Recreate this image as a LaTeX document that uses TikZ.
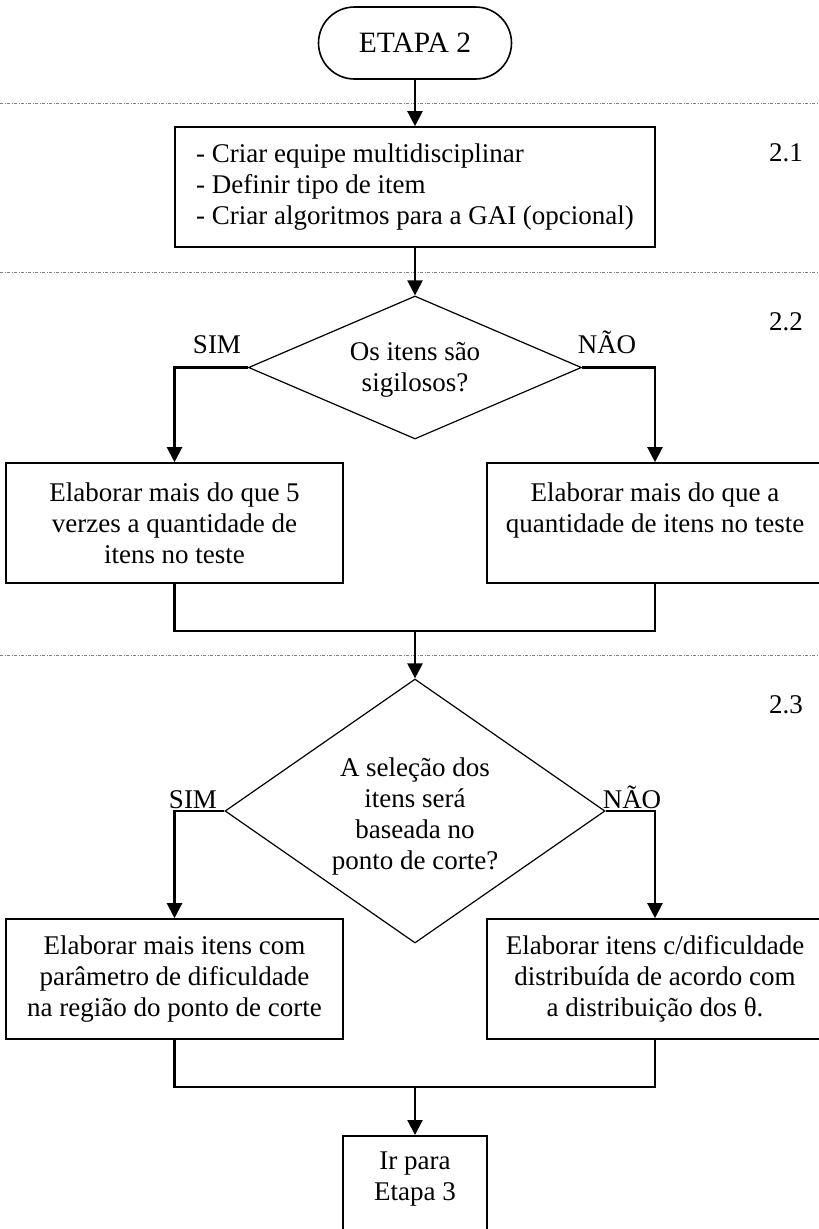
\documentclass[tikz,border=0pt]{standalone}
\usepackage{fontspec}
\setmainfont{Liberation Serif}
\usetikzlibrary{shapes.geometric,arrows.meta}

\begin{document}
\begin{tikzpicture}[x=1pt,y=-1pt,
  font=\fontsize{27}{31}\selectfont,
  every node/.style={align=center},
  terminal/.style={draw,line width=1.6pt,rectangle,rounded corners=36pt,
    minimum width=193pt,minimum height=72pt,inner sep=0pt,
    font=\fontsize{29.5}{33}\selectfont},
  box/.style={draw,line width=1.6pt,rectangle,inner sep=0pt},
  decision/.style={draw,diamond,line width=1.2pt,inner sep=0pt},
  flow/.style={line width=2.2pt,-{Triangle[length=15pt,width=15pt]}},
  link/.style={line width=2.2pt},
  sep/.style={gray,line width=0.7pt,dash pattern=on 3pt off 1.5pt on 1pt off 1.5pt}]

\clip (0,0) rectangle (819,1229);

% stage separators
\draw[sep] (0,103) -- (819,103);
\draw[sep] (0,272) -- (819,272);
\draw[sep] (0,655) -- (819,655);

% step numbers
\node (n21) at (786,153) {2.1};
\node (n22) at (786,322) {2.2};
\node (n23) at (786,705) {2.3};

% start
\node[terminal] (start) at (415,43) {ETAPA 2};

% 2.1
\node[box,minimum width=480pt,minimum height=120pt,align=left] (s21) at (415,187)
  {- Criar equipe multidisciplinar\\- Definir tipo de item\\- Criar algoritmos para a GAI (opcional)};

% 2.2
\node[decision,minimum width=333pt,minimum height=143pt] (q1) at (415,367.5) {};
\node (q1text) at (415,370) {Os itens são\\sigilosos?};
\node[anchor=base] (yes1) at (217,353) {SIM};
\node[anchor=base] (no1) at (607,353) {NÃO};

\node[box,minimum width=337pt,minimum height=120pt] (a1) at (174.5,523)
  {Elaborar mais do que 5\\verzes a quantidade de\\itens no teste};
\node[box,minimum width=336pt,minimum height=120pt] (b1) at (655,523)
  {Elaborar mais do que a\\quantidade de itens no teste\\\mbox{}};

% 2.3
\node[decision,minimum width=380pt,minimum height=264pt] (q2) at (415,811) {};
\node (q2text) at (415,816) {A seleção dos\\itens será\\baseada no\\ponto de corte?};
\node[anchor=base] (yes2) at (193,808) {SIM};
\node[anchor=base] (no2) at (632,808) {NÃO};

\node[box,minimum width=337pt,minimum height=120pt] (a2) at (174.5,979)
  {Elaborar mais itens com\\parâmetro de dificuldade\\na região do ponto de corte};
\node[box,minimum width=336pt,minimum height=120pt] (b2) at (655,979)
  {Elaborar itens c/dificuldade\\distribuída de acordo com\\a distribuição dos θ.};

% next stage
\node[box,minimum width=144pt,minimum height=110pt,anchor=north] (go) at (415,1135) {};
\node (gotext) at (415,1179) {Ir para\\Etapa 3};

% connectors
\coordinate (m1) at (415,631);
\coordinate (m2) at (415,1087);

\draw[flow] (start) -- (s21);
\draw[flow] (s21) -- (q1);
\draw[flow] (q1.west) -| (a1.north);
\draw[flow] (q1.east) -| (b1.north);
\draw[link] (a1.south) |- (m1) -| (b1.south);
\draw[flow] (m1) -- (q2.north);
\draw[flow] (q2.west) -| (a2.north);
\draw[flow] (q2.east) -| (b2.north);
\draw[link] (a2.south) |- (m2) -| (b2.south);
\draw[flow] (m2) -- (go.north);

\end{tikzpicture}
\end{document}
